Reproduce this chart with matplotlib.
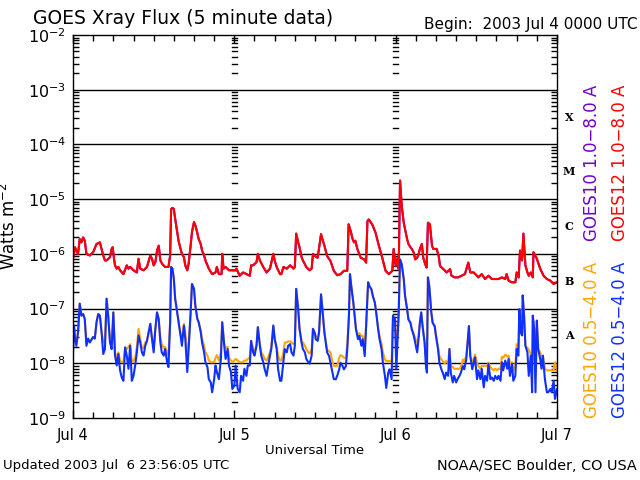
import matplotlib
matplotlib.use("Agg")
import matplotlib.pyplot as plt
import matplotlib.transforms as mtransforms
from matplotlib.ticker import LogLocator, MultipleLocator, NullFormatter
import numpy as np

# hours since 2003 Jul 4 00:00 UTC, values are log10(W m^-2)
long_hours = [
    0.0, 0.3, 0.5, 0.75, 1.0, 1.25, 1.5, 1.75, 2.0, 2.5, 3.0, 3.5, 4.0, 4.5, 4.75, 5.0,
    5.5, 5.75, 5.9, 6.1, 6.25, 6.5, 6.75, 7.0, 7.5, 8.0, 8.25, 8.5, 9.0, 9.5, 9.75, 10.0,
    10.5, 11.0, 11.5, 11.75, 12.0, 12.25, 12.5, 12.75, 13.0, 13.25, 13.7, 14.2, 14.45, 14.6,
    14.8, 15.0, 15.2, 15.5, 15.7, 16.0, 16.2, 16.5, 16.7, 17.0, 17.2, 17.5, 17.7, 18.0,
    18.2, 18.4, 18.7, 19.0, 19.2, 19.5, 19.7, 20.2, 20.7, 21.2, 21.4, 21.7, 22.1, 22.2,
    22.4, 22.7, 23.2, 23.7, 24.2, 24.3, 24.8, 25.3, 25.8, 26.3, 26.5, 26.8, 27.3, 27.5,
    27.8, 28.3, 28.8, 29.3, 29.8, 30.0, 30.3, 30.8, 31.0, 31.3, 31.8, 32.3, 32.8, 33.0,
    33.2, 33.5, 33.7, 34.0, 34.2, 34.7, 35.2, 35.5, 35.7, 36.2, 36.4, 36.9, 37.1, 37.4,
    37.8, 38.3, 38.8, 39.3, 39.8, 40.3, 40.8, 41.0, 41.3, 41.6, 41.8, 42.0, 42.3, 42.8,
    43.3, 43.6, 43.8, 44.0, 44.5, 45.0, 45.5, 46.0, 46.5, 47.0, 47.5, 47.7, 48.0, 48.3,
    48.45, 48.65, 48.9, 49.2, 49.4, 49.7, 49.9, 50.2, 50.4, 50.7, 50.9, 51.2, 51.4, 51.6,
    51.9, 52.1, 52.4, 52.6, 52.8, 53.1, 53.4, 53.6, 54.1, 54.4, 54.6, 55.1, 55.6, 56.1,
    56.3, 56.8, 57.3, 57.8, 58.3, 58.8, 59.1, 59.6, 60.1, 60.3, 60.8, 61.3, 61.8, 62.3,
    62.8, 63.3, 63.8, 64.3, 64.5, 64.8, 65.3, 65.8, 66.0, 66.3, 66.5, 66.8, 67.0, 67.3,
    67.6, 67.8, 68.1, 68.4, 68.5, 69.0, 69.5, 70.0, 70.5, 71.0, 71.5, 72.0,
]
goes12_long = [
    -6.09, -5.88, -5.94, -6.00, -5.73, -5.79, -5.70, -5.76, -6.00, -6.03, -5.97, -5.82, -5.79, -6.03, -6.12, -6.12,
    -6.06, -5.91, -5.88, -6.09, -6.21, -6.27, -6.24, -6.30, -6.37, -6.21, -6.27, -6.24, -6.30, -6.34, -6.09, -6.27,
    -6.30, -6.24, -6.03, -6.09, -6.21, -6.15, -5.94, -5.85, -6.12, -6.18, -6.24, -6.24, -6.03, -5.18,
    -5.16, -5.18, -5.36, -5.60, -5.76, -5.91, -6.00, -6.06, -6.21, -6.30, -6.18, -5.85, -5.60, -5.42,
    -5.48, -5.57, -5.73, -5.82, -5.94, -6.03, -6.12, -6.27, -6.37, -6.34, -6.24, -6.37, -6.37, -6.00,
    -6.27, -6.24, -6.30, -6.30, -6.30, -6.27, -6.40, -6.34, -6.37, -6.40, -6.21, -6.21, -6.15, -6.00,
    -6.12, -6.24, -6.34, -6.27, -6.00, -6.12, -6.24, -6.37, -6.37, -6.24, -6.27, -6.21, -6.27, -6.24,
    -5.63, -5.79, -5.88, -6.06, -6.12, -6.24, -6.30, -6.27, -6.00, -6.06, -6.07, -5.64, -5.73, -5.85,
    -6.04, -6.13, -6.31, -6.39, -6.37, -6.31, -6.31, -5.46, -5.58, -5.73, -5.79, -5.76, -5.91, -6.07,
    -6.10, -6.16, -5.40, -5.37, -5.46, -5.61, -5.85, -6.07, -6.31, -6.37, -6.31, -5.91, -6.22, -6.07,
    -6.28, -4.66, -5.12, -5.43, -5.55, -5.73, -5.82, -5.88, -5.91, -5.98, -6.10, -6.07, -6.01, -5.91,
    -5.82, -6.07, -6.19, -6.25, -5.43, -5.46, -5.85, -5.91, -5.91, -6.04, -6.22, -6.28, -6.34, -6.28,
    -6.40, -6.43, -6.43, -6.40, -6.37, -6.16, -6.34, -6.34, -6.40, -6.43, -6.37, -6.46, -6.40, -6.46,
    -6.46, -6.46, -6.43, -6.46, -6.37, -6.49, -6.52, -6.52, -6.34, -6.43, -5.94, -6.12, -5.63, -6.21,
    -6.34, -6.40, -6.34, -6.43, -5.97, -6.09, -6.27, -6.40, -6.46, -6.49, -6.55, -6.52,
]
# GOES10 long channel is indistinguishable from GOES12 in the picture
goes10_long = list(goes12_long)

short_hours = [
    0.0, 0.15, 0.3, 0.5, 0.75, 1.0, 1.25, 1.5, 1.75, 2.0, 2.25, 2.5, 3.0, 3.25, 3.5, 3.75,
    4.0, 4.25, 4.5, 4.75, 5.0, 5.25, 5.5, 5.75, 6.0, 6.25, 6.5, 6.75, 7.0, 7.25, 7.5, 7.75,
    8.0, 8.25, 8.5, 8.75, 9.0, 9.25, 9.5, 9.75, 10.0, 10.25, 10.5, 10.75, 11.0, 11.5, 11.75, 12.0,
    12.25, 12.5, 12.75, 13.0, 13.2, 13.5, 13.7, 14.0, 14.2, 14.45, 14.6, 14.8, 15.0, 15.2, 15.5, 15.7,
    16.0, 16.2, 16.5, 16.7, 17.0, 17.2, 17.5, 17.7, 18.0, 18.2, 18.5, 18.7, 19.0, 19.2, 19.5, 19.7,
    20.0, 20.2, 20.5, 20.7, 21.0, 21.2, 21.4, 21.7, 22.0, 22.2, 22.5, 22.7, 23.0, 23.2, 23.5, 23.7,
    24.0, 24.2, 24.5, 24.8, 25.0, 25.3, 25.5, 25.8, 26.0, 26.3, 26.5, 26.8, 27.0, 27.3, 27.5, 27.8,
    28.0, 28.3, 28.5, 28.8, 29.0, 29.3, 29.5, 29.8, 30.0, 30.3, 30.5, 30.8, 31.0, 31.3, 31.5, 31.8,
    32.0, 32.3, 32.5, 32.8, 33.0, 33.2, 33.5, 33.7, 34.0, 34.2, 34.5, 34.7, 35.0, 35.2, 35.5, 35.7,
    36.0, 36.1, 36.4, 36.6, 36.9, 37.1, 37.4, 37.6, 37.8, 38.1, 38.3, 38.6, 38.8, 39.1, 39.3, 39.6,
    39.8, 40.1, 40.3, 40.6, 40.8, 41.05, 41.2, 41.4, 41.7, 41.9, 42.1, 42.4, 42.6, 42.9, 43.1, 43.4,
    43.6, 43.9, 44.1, 44.4, 44.6, 44.9, 45.1, 45.4, 45.6, 45.9, 46.1, 46.4, 46.6, 46.9, 47.1, 47.4,
    47.6, 47.9, 48.1, 48.3, 48.45, 48.65, 48.9, 49.2, 49.4, 49.7, 49.9, 50.2, 50.4, 50.7, 50.9, 51.2,
    51.4, 51.6, 51.8, 52.0, 52.3, 52.5, 52.65, 52.8, 53.0, 53.3, 53.5, 53.8, 54.0, 54.3, 54.5, 54.8,
    55.0, 55.3, 55.5, 55.8, 56.0, 56.2, 56.5, 56.7, 57.0, 57.2, 57.5, 57.7, 58.0, 58.2, 58.5, 58.7,
    58.9, 59.1, 59.4, 59.6, 59.8, 60.1, 60.3, 60.6, 60.8, 61.1, 61.3, 61.6, 61.8, 62.1, 62.3, 62.6,
    62.8, 63.1, 63.3, 63.6, 63.8, 64.0, 64.3, 64.6, 64.8, 65.0, 65.3, 65.5, 65.8, 66.0, 66.25, 66.4,
    66.6, 66.8, 66.9, 67.1, 67.3, 67.6, 67.8, 68.1, 68.3, 68.4, 68.6, 68.8, 69.0, 69.2, 69.5, 69.7,
    69.9, 70.2, 70.5, 70.7, 71.0, 71.2, 71.5, 71.7, 72.0,
]
goes12_short = [
    -7.83, -7.31, -7.55, -7.68, -7.43, -6.91, -7.13, -7.10, -7.19, -7.68, -7.55, -7.62, -7.52, -7.55, -7.25, -7.10,
    -7.13, -7.43, -7.83, -7.74, -6.82, -7.16, -7.62, -7.74, -7.07, -7.86, -8.04, -7.83, -8.13, -8.26, -8.32, -7.71,
    -7.86, -8.10, -7.68, -8.32, -8.23, -8.04, -7.80, -7.49, -7.62, -7.80, -7.86, -7.68, -7.59, -7.28, -7.55, -7.80,
    -7.37, -7.07, -7.19, -7.62, -7.80, -7.86, -7.74, -7.98, -8.07, -7.25, -6.24, -6.27, -6.46, -6.82, -7.07, -7.25,
    -7.49, -7.68, -7.31, -7.55, -8.16, -7.74, -7.07, -6.55, -6.64, -6.95, -7.19, -7.25, -7.43, -7.62, -7.80, -7.98,
    -8.07, -8.29, -8.35, -8.53, -8.29, -8.04, -8.16, -8.29, -7.92, -7.25, -7.68, -7.92, -7.74, -8.04, -8.16, -8.47,
    -8.41, -8.04, -8.47, -8.53, -8.23, -8.32, -8.10, -8.23, -8.04, -8.04, -7.59, -7.80, -7.86, -7.68, -7.34, -7.68,
    -7.86, -7.98, -8.10, -8.23, -8.07, -7.86, -7.74, -7.31, -7.55, -7.74, -8.10, -8.32, -8.32, -7.98, -7.74, -7.80,
    -7.68, -7.65, -7.80, -7.86, -7.68, -6.64, -7.01, -7.37, -7.62, -7.74, -7.80, -7.92, -7.98, -8.01, -7.86, -7.37,
    -7.46, -7.56, -7.59, -7.44, -6.74, -7.01, -7.44, -7.62, -7.80, -7.87, -7.99, -8.17, -8.29, -8.29, -8.23, -8.11,
    -7.99, -8.05, -8.11, -8.05, -7.74, -7.13, -6.37, -6.59, -6.89, -7.13, -7.38, -7.56, -7.50, -7.68, -7.56, -7.87,
    -7.32, -6.52, -6.59, -6.65, -6.77, -6.89, -7.07, -7.38, -7.56, -7.74, -7.99, -8.23, -8.45, -8.17, -8.11, -8.29,
    -7.13, -7.20, -8.11, -7.50, -7.07, -6.10, -6.19, -6.46, -6.77, -7.01, -7.20, -7.26, -7.38, -7.50, -7.62, -7.80,
    -7.56, -7.26, -7.07, -7.32, -7.62, -8.05, -8.17, -6.43, -6.59, -7.07, -7.26, -7.32, -7.50, -7.74, -7.99, -8.11,
    -8.17, -8.29, -8.17, -8.23, -7.74, -8.17, -8.35, -8.23, -8.35, -8.29, -8.23, -8.17, -8.05, -8.11, -7.93, -7.62,
    -7.32, -7.87, -8.11, -7.99, -7.89, -8.29, -8.13, -8.29, -8.10, -8.44, -8.23, -8.32, -8.01, -8.29, -8.26, -8.32,
    -8.23, -8.29, -8.23, -8.32, -7.98, -8.13, -7.95, -8.10, -7.92, -8.23, -8.01, -8.32, -8.23, -7.74, -7.86, -7.01,
    -7.43, -7.49, -6.76, -7.13, -7.68, -7.80, -8.23, -7.86, -8.53, -7.13, -7.37, -8.53, -7.22, -7.74, -7.92, -8.10,
    -7.86, -8.29, -8.53, -8.53, -8.47, -8.53, -8.32, -8.65, -8.47,
]
goes10_short = [
    -7.75, -7.31, -7.50, -7.62, -7.43, -6.91, -7.13, -7.10, -7.19, -7.62, -7.55, -7.60, -7.52, -7.52, -7.25, -7.10,
    -7.13, -7.43, -7.62, -7.59, -6.82, -7.16, -7.55, -7.65, -7.07, -7.80, -7.92, -7.80, -7.95, -7.98, -7.98, -7.71,
    -7.74, -7.70, -7.65, -7.98, -7.95, -7.90, -7.70, -7.37, -7.55, -7.72, -7.72, -7.62, -7.59, -7.28, -7.55, -7.70,
    -7.37, -7.07, -7.19, -7.55, -7.65, -7.72, -7.70, -7.80, -7.85, -7.25, -6.24, -6.27, -6.46, -6.82, -7.07, -7.25,
    -7.49, -7.55, -7.28, -7.45, -7.80, -7.70, -7.07, -6.55, -6.64, -6.95, -7.19, -7.25, -7.40, -7.55, -7.68, -7.80,
    -7.86, -7.95, -7.98, -7.98, -7.98, -7.90, -7.85, -7.95, -7.80, -7.25, -7.65, -7.72, -7.70, -7.90, -7.95, -7.98,
    -7.95, -7.92, -7.95, -7.98, -7.98, -7.98, -7.95, -7.95, -7.92, -7.90, -7.59, -7.75, -7.80, -7.65, -7.34, -7.65,
    -7.80, -7.86, -7.92, -7.95, -7.90, -7.80, -7.70, -7.31, -7.55, -7.70, -7.86, -7.95, -7.95, -7.80, -7.62, -7.62,
    -7.60, -7.60, -7.62, -7.65, -7.62, -6.64, -7.01, -7.37, -7.60, -7.62, -7.68, -7.74, -7.80, -7.82, -7.75, -7.37,
    -7.46, -7.50, -7.55, -7.44, -6.74, -7.01, -7.44, -7.60, -7.75, -7.78, -7.80, -7.98, -8.05, -8.05, -8.05, -7.90,
    -7.85, -7.87, -7.90, -7.90, -7.67, -7.13, -6.37, -6.59, -6.89, -7.13, -7.38, -7.50, -7.45, -7.50, -7.50, -7.70,
    -7.32, -6.52, -6.59, -6.65, -6.77, -6.89, -7.07, -7.38, -7.50, -7.65, -7.80, -7.93, -7.96, -7.96, -7.96, -7.96,
    -7.13, -7.20, -7.70, -7.45, -7.07, -6.10, -6.19, -6.46, -6.77, -7.01, -7.20, -7.26, -7.38, -7.45, -7.55, -7.62,
    -7.50, -7.26, -7.07, -7.32, -7.60, -7.87, -7.90, -6.43, -6.59, -7.07, -7.26, -7.32, -7.50, -7.70, -7.87, -7.93,
    -7.96, -8.00, -7.96, -8.00, -7.74, -8.05, -8.07, -8.10, -8.10, -8.10, -8.10, -8.07, -7.93, -7.96, -7.87, -7.62,
    -7.32, -7.87, -7.96, -7.93, -7.84, -7.99, -8.05, -8.10, -8.05, -8.05, -8.05, -8.05, -7.99, -8.07, -8.10, -8.13,
    -8.10, -8.13, -8.10, -8.10, -7.88, -7.90, -7.84, -7.88, -7.86, -8.00, -7.98, -8.13, -8.05, -7.65, -7.80, -7.01,
    -7.43, -7.49, -6.76, -7.13, -7.68, -7.72, -7.75, -7.84, -7.98, -7.13, -7.37, -7.90, -7.22, -7.74, -7.80, -7.95,
    -7.86, -8.10, -8.13, -8.13, -8.13, -8.13, -8.13, -7.98, -8.13,
]

day_ticks = [0, 24, 48, 72]
day_labels = ["Jul 4", "Jul 5", "Jul 6", "Jul 7"]
class_letters = ["X", "M", "C", "B", "A"]
class_levels = [1e-4, 1e-5, 1e-6, 1e-7, 1e-8]

PURPLE = "#6e00d2"
RED = "#ff0000"
ORANGE = "#ffa500"
BLUE = "#1030ff"

fig = plt.figure(figsize=(6.4, 4.8), dpi=100)
ax = fig.add_axes([73 / 640, 62 / 480, 484 / 640, 383 / 480])

lw = 1.5
ax.plot(long_hours, 10 ** np.array(goes10_long), color=PURPLE, lw=lw)
ax.plot(long_hours, 10 ** np.array(goes12_long), color=RED, lw=lw)
ax.plot(short_hours, 10 ** np.array(goes10_short), color=ORANGE, lw=lw)
ax.plot(short_hours, 10 ** np.array(goes12_short), color=BLUE, lw=lw)

ax.set_yscale("log")
ax.set_ylim(1e-9, 1e-2)
ax.set_xlim(0, 72)

# decade lines
for e in range(-8, -2):
    ax.axhline(10.0 ** e, color="black", lw=1.0, zorder=0)

ax.yaxis.set_major_locator(LogLocator(base=10, numticks=10))
ax.yaxis.set_minor_locator(LogLocator(base=10, subs=np.arange(2, 10), numticks=20))
ax.yaxis.set_minor_formatter(NullFormatter())
ax.set_xticks(day_ticks)
ax.set_xticklabels(day_labels)
ax.xaxis.set_minor_locator(MultipleLocator(3))

ax.tick_params(which="both", direction="in", top=True, right=True, width=1.0)
ax.tick_params(which="major", length=6)
ax.tick_params(which="minor", length=4.5)
ax.tick_params(axis="y", which="major", length=0, labelsize=11.5, pad=5)
ax.tick_params(axis="x", labelsize=10.5, pad=7)
for s in ax.spines.values():
    s.set_linewidth(1.0)

# y tick columns at the inner day boundaries
trans = mtransforms.blended_transform_factory(ax.transData, ax.transData)
for d in day_ticks[1:-1]:
    for e in range(-9, -2):
        for m in range(2, 10):
            v = m * 10.0 ** e
            ax.plot([d - 0.35, d + 0.35], [v, v], color="black", lw=1.0, transform=trans, zorder=1)

ax.set_ylabel("Watts m$^{-2}$", fontsize=12, labelpad=6)
ax.set_xlabel("Universal Time", fontsize=9.5, labelpad=1)

fig.text(33 / 640, 1 - 18 / 480, "GOES Xray Flux (5 minute data)", fontsize=13.5, va="center", ha="left")
fig.text(637 / 640, 1 - 25 / 480, "Begin:  2003 Jul 4 0000 UTC", fontsize=11, va="center", ha="right")
fig.text(3 / 640, 1 - 466 / 480, "Updated 2003 Jul  6 23:56:05 UTC", fontsize=9.5, va="center", ha="left")
fig.text(637 / 640, 1 - 466 / 480, "NOAA/SEC Boulder, CO USA", fontsize=10.4, va="center", ha="right")

# flare class letters to the right of the axes
ctrans = mtransforms.blended_transform_factory(ax.transAxes, ax.transData)
for letter, lvl in zip(class_letters, class_levels):
    ax.text(1.025, lvl * 10 ** 0.5, letter, transform=ctrans, fontsize=8, family="DejaVu Serif",
            fontweight="bold", ha="center", va="center")

# rotated channel legend
fig.text(592 / 640, 1 - 163 / 480, "GOES10 1.0\u22128.0 A", color=PURPLE, rotation=90,
         fontsize=12, ha="center", va="center")
fig.text(620 / 640, 1 - 163 / 480, "GOES12 1.0\u22128.0 A", color=RED, rotation=90,
         fontsize=12, ha="center", va="center")
fig.text(592 / 640, 1 - 340 / 480, "GOES10 0.5\u22124.0 A", color=ORANGE, rotation=90,
         fontsize=12, ha="center", va="center")
fig.text(620 / 640, 1 - 340 / 480, "GOES12 0.5\u22124.0 A", color=BLUE, rotation=90,
         fontsize=12, ha="center", va="center")

fig.savefig("out.png", dpi=100)
